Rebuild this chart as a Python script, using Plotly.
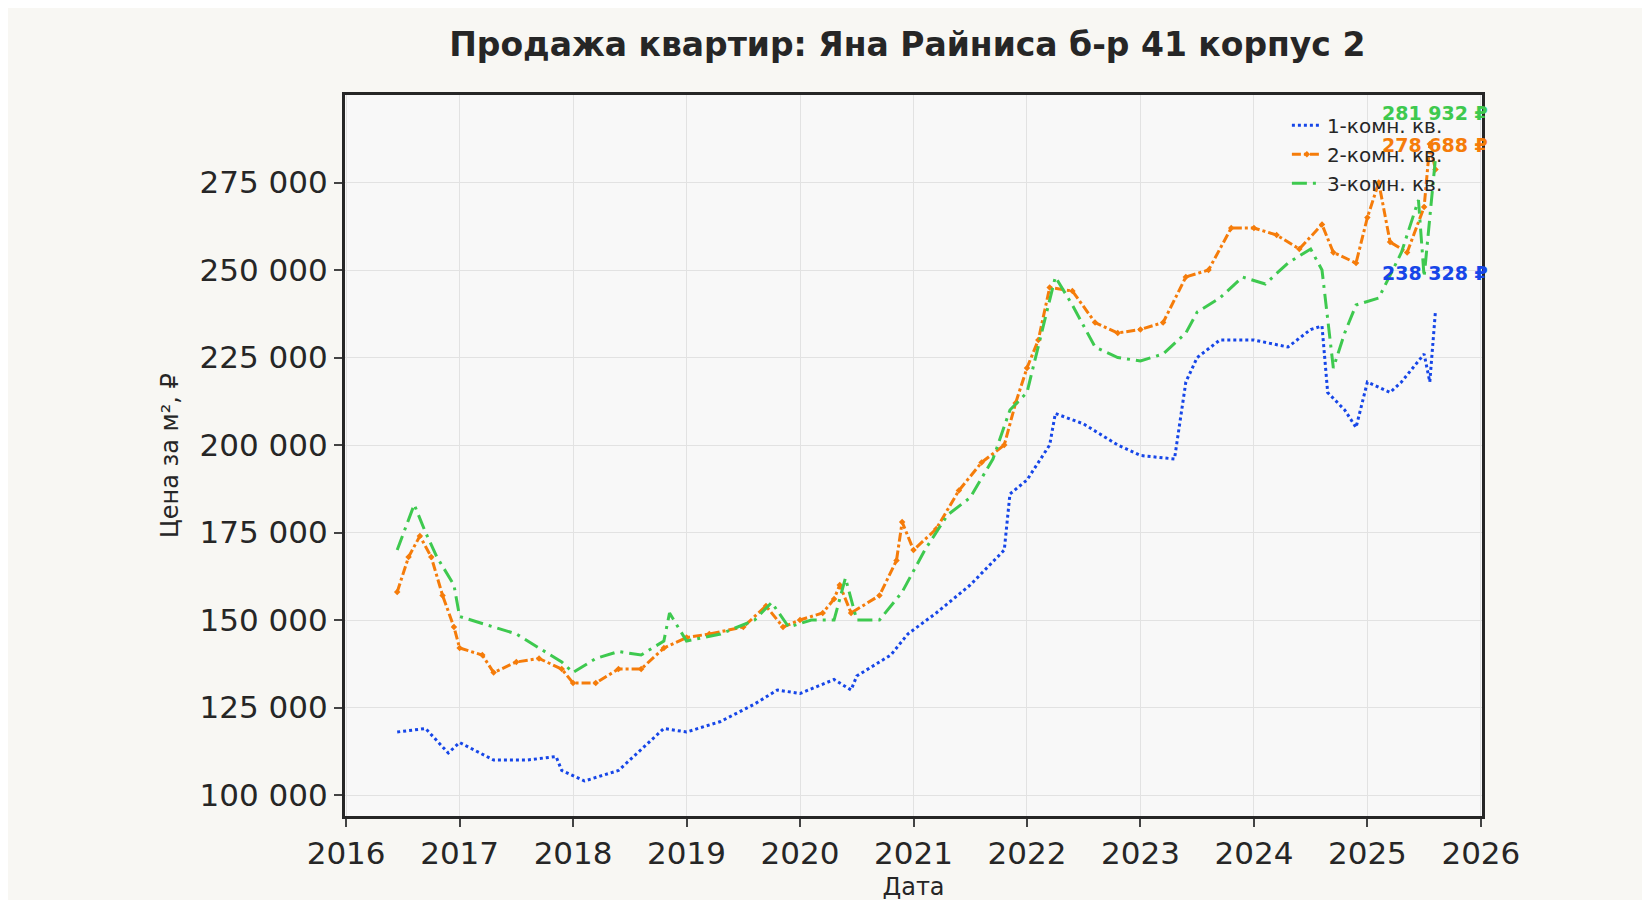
import plotly.graph_objects as go

x1 = [2016.45,2016.7,2016.9,2017.0,2017.3,2017.6,2017.85,2017.9,2018.1,2018.4,2018.6,2018.8,2019.0,2019.3,2019.6,2019.8,2020.0,2020.3,2020.45,2020.5,2020.8,2020.95,2021.2,2021.5,2021.8,2021.85,2022.0,2022.2,2022.25,2022.5,2022.8,2023.0,2023.3,2023.4,2023.5,2023.7,2024.0,2024.3,2024.5,2024.6,2024.65,2024.8,2024.9,2025.0,2025.2,2025.3,2025.4,2025.5,2025.55,2025.6]
y1 = [118,119,112,115,110,110,111,107,104,107,113,119,118,121,126,130,129,133,130,134,140,146,152,160,170,186,190,200,209,206,200,197,196,218,225,230,230,228,233,234,215,210,205,218,215,218,222,226,218,238.328]

x2 = [2016.45,2016.55,2016.65,2016.75,2016.85,2016.95,2017.0,2017.2,2017.3,2017.5,2017.7,2017.9,2018.0,2018.2,2018.4,2018.6,2018.8,2019.0,2019.2,2019.5,2019.7,2019.85,2020.0,2020.2,2020.3,2020.35,2020.45,2020.7,2020.85,2020.9,2021.0,2021.2,2021.4,2021.6,2021.8,2021.9,2022.0,2022.1,2022.2,2022.4,2022.6,2022.8,2023.0,2023.2,2023.4,2023.6,2023.8,2024.0,2024.2,2024.4,2024.6,2024.7,2024.9,2025.0,2025.1,2025.2,2025.35,2025.5,2025.55,2025.6]
y2 = [158,168,174,168,157,148,142,140,135,138,139,136,132,132,136,136,142,145,146,148,154,148,150,152,156,160,152,157,167,178,170,176,187,195,200,212,222,230,245,244,235,232,233,235,248,250,262,262,260,256,263,255,252,265,275,258,255,268,286,278.688]

x3 = [2016.45,2016.6,2016.7,2016.8,2016.95,2017.0,2017.3,2017.5,2017.7,2017.9,2018.0,2018.2,2018.4,2018.6,2018.8,2018.85,2019.0,2019.3,2019.6,2019.75,2019.9,2020.1,2020.3,2020.4,2020.5,2020.7,2020.9,2021.1,2021.3,2021.5,2021.7,2021.85,2022.0,2022.15,2022.25,2022.4,2022.6,2022.8,2023.0,2023.2,2023.4,2023.5,2023.7,2023.9,2024.1,2024.3,2024.5,2024.6,2024.7,2024.8,2024.9,2025.1,2025.3,2025.45,2025.5,2025.6]
y3 = [170,183,175,168,160,151,148,146,142,138,135,139,141,140,144,152,144,146,150,155,148,150,150,162,150,150,158,170,180,185,196,210,215,235,248,240,228,225,224,226,232,238,242,248,246,252,256,250,222,232,240,242,255,270,248,281.932]

names = ["1-комн. кв.", "2-комн. кв.", "3-комн. кв."]
colors = ["#1646e8", "#f57c0a", "#3ec94f"]
dashes = ["dot", "dashdot", "longdashdot"]
label_shift = [38, 25, 45]

fig = go.Figure()
for xs, ys, n, c, d, sh in zip([x1, x2, x3], [y1, y2, y3], names, colors, dashes, label_shift):
    vals = [v * 1000 for v in ys]
    fig.add_trace(go.Scatter(x=xs, y=vals, name=n, mode="lines+markers" if n.startswith("2") else "lines",
                             line=dict(color=c, width=3, dash=d), marker=dict(size=5, color=c, symbol="diamond")))
    fig.add_annotation(x=xs[-1], y=vals[-1], text=f"<b>{int(round(vals[-1])):,} ₽</b>".replace(",", " "),
                       showarrow=False, xanchor="center", yshift=sh, bgcolor="rgba(0,0,0,0)",
                       font=dict(color=c, size=19, family="DejaVu Sans"))

fig.update_layout(
    width=1650, height=900, paper_bgcolor="#f8f7f3", plot_bgcolor="#f8f8f8",
    font=dict(family="DejaVu Sans", color="#262626"),
    title=dict(text="<b>Продажа квартир: Яна Райниса б-р 41 корпус 2</b>", x=0.545, y=0.972, font=dict(size=33)),
    margin=dict(l=337, r=176, t=87, b=74),
    showlegend=True,
    legend=dict(x=0.97, y=0.985, xanchor="right", yanchor="top", bgcolor="rgba(0,0,0,0)", font=dict(size=20)),
)
fig.update_xaxes(range=[2015.99, 2026.01], tickvals=list(range(2016, 2027)), ticktext=[str(i) for i in range(2016, 2027)],
                 showgrid=True, gridcolor="#e2e2e2", showline=True, linecolor="#262626", linewidth=3, mirror=True,
                 ticks="outside", ticklen=8, tickwidth=2, tickfont=dict(size=31), zeroline=False,
                 title=dict(text="Дата", font=dict(size=24), standoff=8))
fig.update_yaxes(range=[94000, 300000], tickvals=[100000,125000,150000,175000,200000,225000,250000,275000],
                 ticktext=["100 000","125 000","150 000","175 000","200 000","225 000","250 000","275 000"],
                 showgrid=True, gridcolor="#e2e2e2", showline=True, linecolor="#262626", linewidth=3, mirror=True,
                 ticks="outside", ticklen=8, tickwidth=2, tickfont=dict(size=31), zeroline=False,
                 title=dict(text="Цена за м², ₽", font=dict(size=24), standoff=15))
fig.write_html("out.html")
